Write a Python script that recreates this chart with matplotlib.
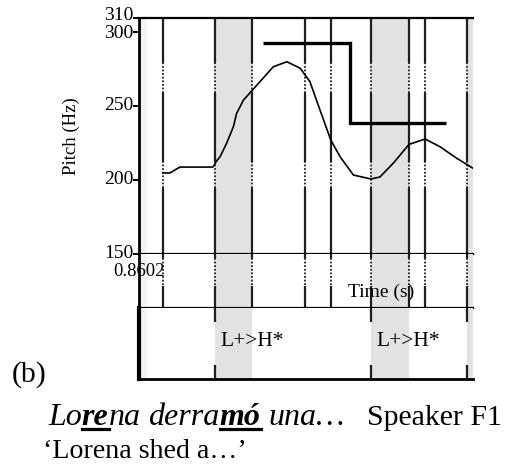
import matplotlib
matplotlib.use("Agg")
import matplotlib.pyplot as plt
import matplotlib.transforms as mtransforms
from matplotlib.lines import Line2D

plt.rcParams['font.family'] = ['Liberation Serif', 'DejaVu Serif']

# ---------------- data ----------------
t_start = 0.8602
t_end = 1.790
pitch_time = [0.927, 0.9465, 0.960, 0.974, 1.066, 1.077, 1.086, 1.104, 1.123, 1.132,
              1.151, 1.176, 1.197, 1.234, 1.272, 1.309, 1.336, 1.364, 1.394, 1.420,
              1.457, 1.506, 1.531, 1.568, 1.612, 1.657, 1.698, 1.745, 1.790]
pitch_hz = [204.6, 204.6, 206.6, 208.6, 208.6, 213.0, 215.6, 224.7, 236.0, 245.0,
            254.0, 260.8, 266.5, 276.6, 280.0, 275.6, 266.5, 247.3, 227.0, 215.6,
            203.2, 200.5, 201.9, 211.2, 224.0, 227.6, 222.4, 214.5, 207.8]
boundaries = [0.927, 1.072, 1.175, 1.322, 1.395, 1.506, 1.612, 1.657, 1.774]
shaded = [(1.072, 1.175), (1.506, 1.612), (1.774, 1.790)]
faint = [(0.8602, 0.882)]
stylized_t = [1.206, 1.448, 1.448, 1.715]
stylized_hz = [292.5, 292.5, 238.3, 238.3]
tone_points = [1.072, 1.506, 1.774]
tone_labels = ["L+>H*", "L+>H*", ""]
y_ticks = [150, 200, 250, 300, 310]
y_lim = (150, 310)

W, H = 506, 471
fig = plt.figure(figsize=(W / 100, H / 100), dpi=100)

def fx(px):
    return px / W

def fy(py):
    return 1 - py / H

x0, x1 = 139, 473
ax = fig.add_axes([fx(x0), fy(253.5), fx(x1 - x0), (253.5 - 17.5) / H])
axt = fig.add_axes([fx(x0), fy(308), fx(x1 - x0), (308 - 253.5) / H])
axg = fig.add_axes([fx(x0), fy(379), fx(x1 - x0), (379 - 308) / H])

shade_col = '#e2e2e2'
line_col = '#1e1e1e'
for a in (ax, axt, axg):
    a.set_xlim(t_start, t_end)
    for s0, s1 in shaded:
        a.axvspan(s0, s1, color=shade_col, lw=0, zorder=0)
    for s0, s1 in faint:
        a.axvspan(s0, s1, color='#f3f3f3', lw=0, zorder=0)
    a.set_xticks([])
    a.spines['right'].set_visible(False)

# ---- pitch panel ----
ax.set_ylim(*y_lim)
solid_segs = [(150, 194.4), (212.0, 258.8), (279.2, 310)]
dot_segs = [(194.4, 212.0), (258.8, 279.2)]
for b in boundaries:
    for s0, s1 in solid_segs:
        ax.plot([b, b], [s0, s1], color=line_col, lw=1.6, solid_capstyle='butt', zorder=2)
    for s0, s1 in dot_segs:
        ax.plot([b, b], [s0, s1], color=line_col, lw=1.3, ls=(0, (1, 1)), zorder=2)
ax.plot(pitch_time, pitch_hz, color='black', lw=1.2, zorder=3)
ax.plot(stylized_t, stylized_hz, color='black', lw=2.4, zorder=4,
        solid_joinstyle='miter', solid_capstyle='butt')
ax.set_yticks(y_ticks)
ax.set_yticklabels([str(v) for v in y_ticks], fontsize=14)
ax.tick_params(axis='y', direction='out', length=4, width=1.4, pad=0)
for v, lbl in zip(y_ticks, ax.get_yticklabels()):
    lbl.set_verticalalignment('center')
    if v == 310:
        lbl.set_transform(lbl.get_transform() +
                          mtransforms.ScaledTranslation(0, 2 / 100, fig.dpi_scale_trans))
    if v == 300:
        lbl.set_transform(lbl.get_transform() +
                          mtransforms.ScaledTranslation(0, -1 / 100, fig.dpi_scale_trans))
ax.spines['left'].set_linewidth(2.0)
ax.spines['top'].set_linewidth(1.6)
ax.spines['bottom'].set_linewidth(1.6)
fig.text(fx(71), fy(136), "Pitch (Hz)", fontsize=13.5, rotation=90,
         ha='center', va='center')

# ---- time row ----
axt.set_ylim(0, 1)
axt.set_yticks([])
for b in boundaries:
    axt.plot([b, b], [1, 0.917], color=line_col, lw=1.6, solid_capstyle='butt')
    axt.plot([b, b], [0.917, 0.404], color=line_col, lw=1.3, ls=(0, (1, 1)))
    axt.plot([b, b], [0.404, 0], color=line_col, lw=1.6, solid_capstyle='butt')
axt.spines['top'].set_visible(False)
axt.spines['left'].set_linewidth(2.0)
axt.spines['bottom'].set_linewidth(1.6)
fig.text(fx(381), fy(292), "Time (s)", fontsize=14, ha='center', va='center')
fig.text(fx(139), fy(272), "%.4f" % t_start, fontsize=13.5, ha='center', va='center')

# ---- tone tier ----
axg.set_ylim(0, 1)
axg.set_yticks([])
for p, lab in zip(tone_points, tone_labels):
    axg.plot([p, p], [1, 0.803], color=line_col, lw=1.6, solid_capstyle='butt')
    axg.plot([p, p], [0, 0.197], color=line_col, lw=1.6, solid_capstyle='butt')
    if lab:
        axg.annotate(lab, xy=(p, 0.53), xytext=(5, 0), textcoords='offset pixels',
                     ha='left', va='center', fontsize=15.5)
axg.spines['top'].set_visible(False)
axg.spines['left'].set_linewidth(3.0)
axg.spines['bottom'].set_linewidth(2.0)

# ---- caption ----
fig.text(fx(12), fy(382), "(b)", fontsize=21.5, ha='left', va='baseline')

fig.canvas.draw()
r = fig.canvas.get_renderer()
es_size = 23
space_px = 0.25 * es_size * 100 / 72
pieces = [("Lo", 'normal', False), ("re", 'bold', True),
          ("na", 'normal', False), (" ", None, False),
          ("derra", 'normal', False), ("mó", 'bold', True),
          (" ", None, False), ("una…", 'normal', False)]
x = 48
base = 425
for s, wt, ul in pieces:
    if wt is None:
        x += space_px * len(s)
        continue
    t = fig.text(fx(x), fy(base), s, fontsize=es_size, style='italic', weight=wt,
                 ha='left', va='baseline')
    bb = t.get_window_extent(renderer=r)
    if ul:
        fig.add_artist(Line2D([fx(bb.x0), fx(bb.x1)], [fy(base + 3.5)] * 2,
                              color='black', lw=2.3, transform=fig.transFigure))
    x = bb.x1
fig.text(fx(367), fy(base), "Speaker F1", fontsize=21.5, ha='left', va='baseline')
fig.text(fx(43), fy(458), "‘Lorena shed a…’", fontsize=20.2, ha='left', va='baseline')

fig.savefig("out.png", dpi=100)
